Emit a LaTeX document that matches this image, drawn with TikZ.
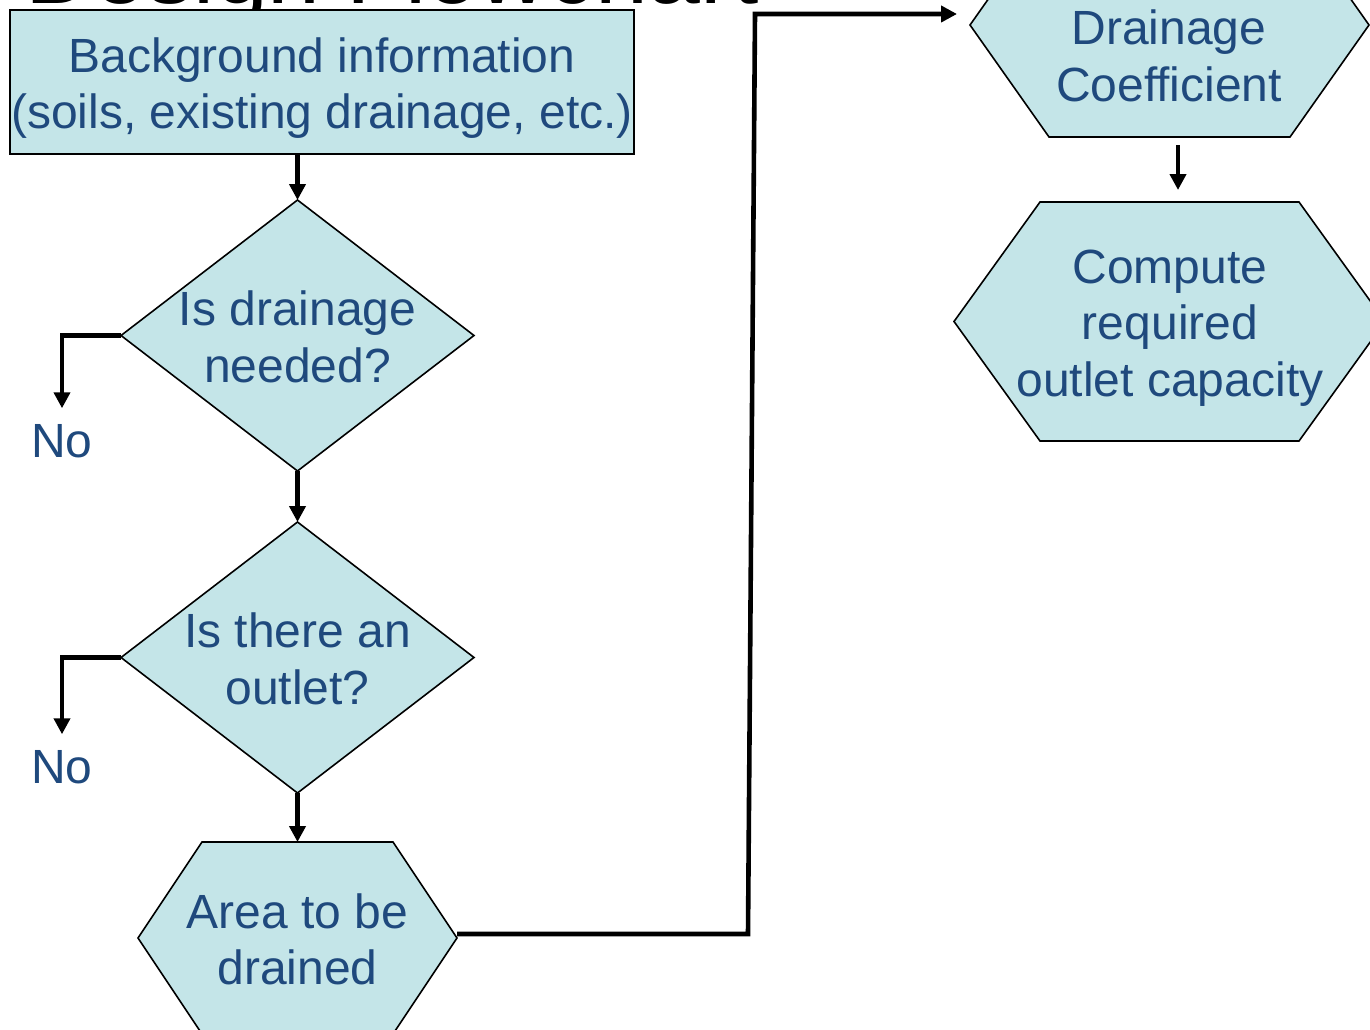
\documentclass[tikz,border=0pt]{standalone}
\usepackage{fontspec}
\setmainfont{Liberation Sans}
\usetikzlibrary{shapes.geometric,arrows.meta}
\definecolor{boxfill}{HTML}{C4E5E8}
\definecolor{boxtext}{HTML}{1F497D}
\tikzset{
  bare/.style={inner sep=0pt, outer sep=0pt},
  shapeline/.style={draw=black, line width=1.6pt, fill=boxfill, line join=miter},
  rectbox/.style={bare, shapeline, rectangle, line width=2pt},
  decision/.style={bare, shapeline, diamond, minimum width=353pt, minimum height=271pt},
  hexframe/.style={bare, rectangle},
  boxlabel/.style={bare, text=boxtext, align=center, font=\fontsize{48}{56.5}\selectfont},
  flow/.style={line width=4.6pt, -{Triangle[length=16pt,width=16pt]}},
}
% filled hexagon spanning a named frame node; #2 = horizontal inset of the top/bottom edges
\newcommand\hexoutline[2]{%
  \filldraw[shapeline] (#1.west) -- ([xshift=#2pt]#1.north west) -- ([xshift=-#2pt]#1.north east)
    -- (#1.east) -- ([xshift=-#2pt]#1.south east) -- ([xshift=#2pt]#1.south west) -- cycle;}
\begin{document}
\begin{tikzpicture}[x=1pt, y=-1pt]
  \useasboundingbox (0,0) rectangle (1370,1030);
  \clip (0,0) rectangle (1370,1030);

  % heading
  \node[bare, anchor=base west, font=\fontsize{95}{114}\selectfont] (title) at (25,4) {Design Flowchart};

  % shapes
  \node[rectbox, minimum width=624pt, minimum height=144pt] (bg) at (322,82) {};
  \node[decision] (q1) at (297.5,335.5) {};
  \node[decision] (q2) at (297.5,657.5) {};
  \node[hexframe, minimum width=319pt, minimum height=192pt] (area) at (297.5,938) {};
  \node[hexframe, minimum width=399pt, minimum height=224pt] (coef) at (1169.5,25) {};
  \node[hexframe, minimum width=431pt, minimum height=239pt] (outcap) at (1169.5,321.5) {};
  \hexoutline{area}{64}
  \hexoutline{coef}{79}
  \hexoutline{outcap}{86}

  % texts
  \node[boxlabel] (bgT) at (322,88) {Background information\\(soils, existing drainage, etc.)};
  \node[boxlabel] (q1T) at (297.5,337) {Is drainage\\needed?};
  \node[boxlabel] (q2T) at (297.5,659) {Is there an\\outlet?};
  \node[boxlabel] (areaT) at (297.5,939.5) {Area to be\\drained};
  \node[boxlabel] (coefT) at (1169,56) {Drainage\\Coefficient};
  \node[boxlabel] (outcapT) at (1170,328) {Compute\\required\\outlet capacity};
  \node[boxlabel] (no1) at (62,441) {No};
  \node[boxlabel] (no2) at (62,767) {No};

  % connectors
  \draw[flow] (bg.south -| q1.north) -- (q1.north);
  \draw[flow] (q1.south) -- (q2.north);
  \draw[flow] (q2.south) -- (area.north);
  \draw[flow] (q1.west) -| ([yshift=16pt]no1.north);
  \draw[flow] (q2.west) -| ([yshift=16pt]no2.north);
  \coordinate (turnlow) at (748,934);
  \coordinate (turnhigh) at (755,14);
  \coordinate (coefin) at (957,14);
  \draw[flow] (area.east |- turnlow) -- (turnlow) -- (turnhigh) -- (coefin);
  \draw[flow] ([xshift=8.5pt,yshift=-8pt]coef.south) -- ([xshift=8.5pt,yshift=12pt]outcap.north);
\end{tikzpicture}
\end{document}
